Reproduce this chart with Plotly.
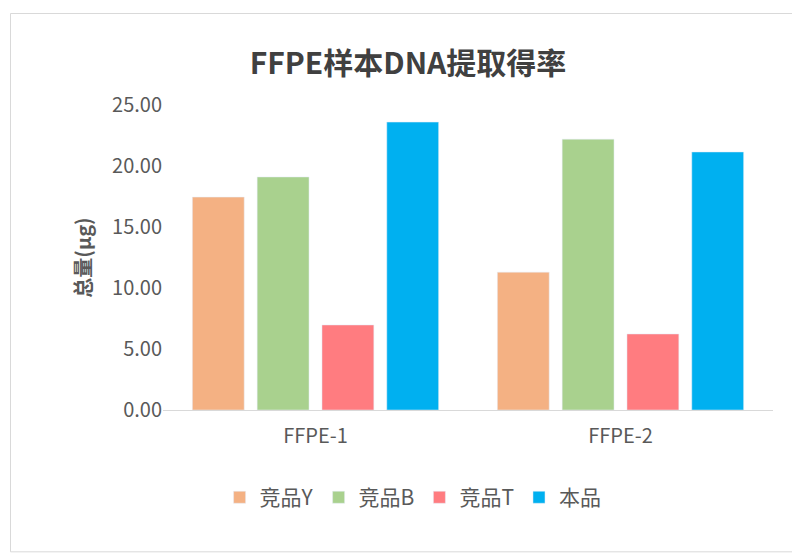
import plotly.graph_objects as go

categories = ["FFPE-1", "FFPE-2"]
series_names = ["竞品Y", "竞品B", "竞品T", "本品"]
values_Y = [17.45, 11.3]
values_B = [19.1, 22.2]
values_T = [6.97, 6.23]
values_ours = [23.6, 21.15]
colors = ["#F4B183", "#A9D18E", "#FF7C80", "#00B0F0"]

fig = go.Figure()
for name, vals, c in zip(series_names, [values_Y, values_B, values_T, values_ours], colors):
    fig.add_trace(go.Bar(name=name, x=categories, y=vals, marker_color=c))

font = "Noto Sans CJK SC"
fig.update_layout(
    width=800, height=559,
    paper_bgcolor="white", plot_bgcolor="white",
    font=dict(family=font, color="#595959", size=20),
    title=dict(text="<b>FFPE样本DNA提取得率</b>", x=0.5, xanchor="center", y=0.92,
               font=dict(size=30, color="#404040")),
    barmode="group", bargap=0.15, bargroupgap=0.2,
    margin=dict(l=155, r=35, t=97, b=157),
    yaxis=dict(range=[0, 25], dtick=5, tickformat=".2f", showgrid=False, zeroline=False,
               title=dict(text="<b>总量(μg)</b>", font=dict(size=20, color="#595959")),
               ticks="", ticklen=0),
    xaxis=dict(showline=True, linecolor="#D9D9D9", linewidth=1, ticks="outside",
               ticklen=8, tickcolor="rgba(0,0,0,0)"),
    legend=dict(orientation="h", x=0.41, xanchor="center", y=-0.22, yanchor="top",
                font=dict(size=21)),
    shapes=[dict(type="rect", xref="paper", yref="paper", x0=-0.25, x1=1.05, y0=-0.465, y1=1.3,
                 line=dict(color="#D9D9D9", width=1))],
)
fig.write_html("out.html")
